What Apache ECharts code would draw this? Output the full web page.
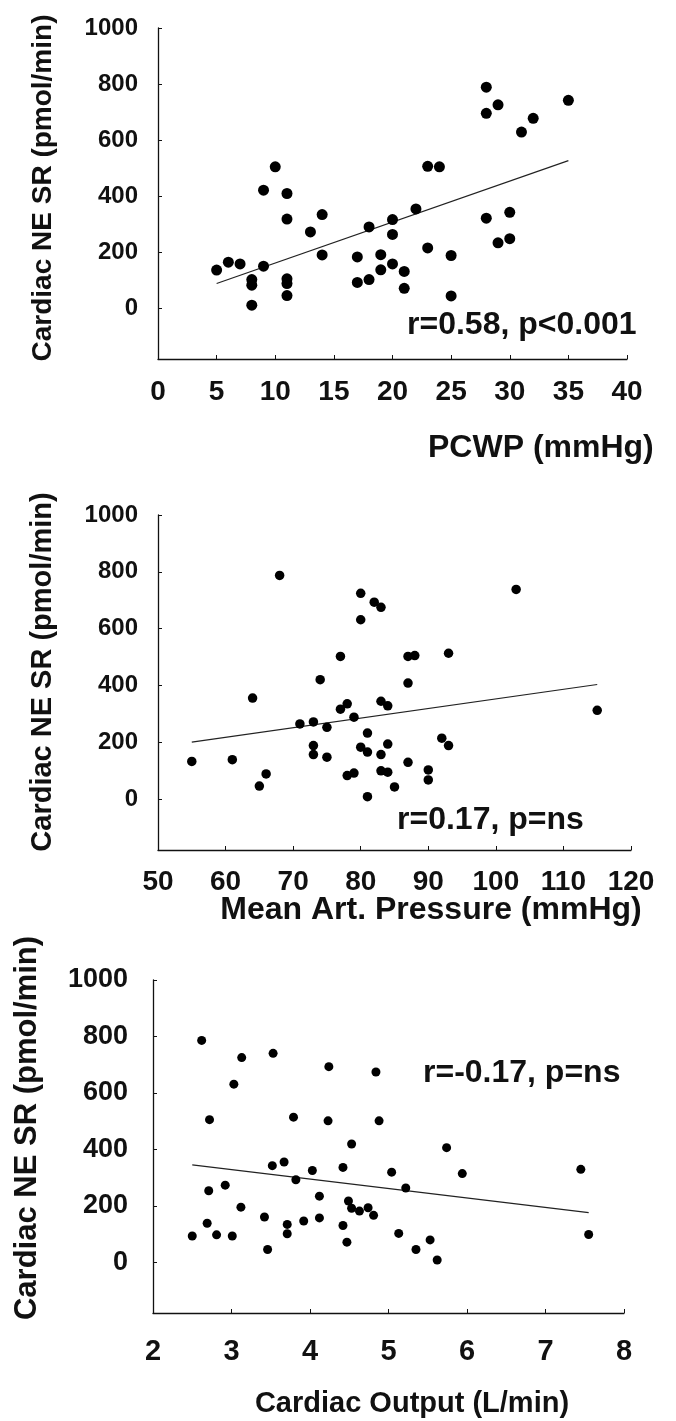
<!DOCTYPE html>
<html>
<head>
<meta charset="utf-8">
<script src="https://cdn.jsdelivr.net/npm/echarts@6/dist/echarts.min.js"></script>
<style>
  html, body { margin: 0; padding: 0; background: #fff; }
  #chart { width: 676px; height: 1421px; }
</style>
</head>
<body>
<div id="chart"></div>
<script>
// panel 1: PCWP vs cardiac NE spillover
const pcwpX = [5, 6, 7, 8, 8, 8, 9, 9, 10, 11, 11, 11, 11, 11, 13, 14, 14, 17, 17, 18, 18, 19, 19, 20, 20, 20, 21, 21, 22, 23, 23, 24, 25, 25, 28, 28, 29, 28, 30, 29, 30, 31, 32, 35];
const pcwpY = [137, 165, 159, 103, 83, 12, 151, 422, 505, 410, 319, 106, 89, 46, 273, 335, 191, 184, 93, 103, 291, 192, 138, 317, 264, 159, 132, 72, 355, 507, 216, 505, 189, 45, 789, 696, 726, 322, 343, 234, 249, 629, 678, 742];
const pcwpFitX = [5, 35];
const pcwpFitY = [89, 527];

// panel 2: mean arterial pressure
const mapX = [55, 61, 64, 65, 66, 68, 71, 73, 73, 73, 74, 75, 75, 77, 77, 78, 78, 79, 79, 80, 80, 80, 81, 81, 81, 82, 83, 83, 84, 84, 83, 83, 84, 85, 87, 88, 87, 87, 90, 90, 93, 115, 103, 92, 93];
const mapY = [132, 138, 355, 45, 88, 787, 264, 271, 188, 156, 420, 252, 147, 502, 316, 335, 82, 91, 288, 724, 631, 182, 232, 165, 8, 693, 675, 344, 328, 193, 156, 99, 94, 42, 502, 505, 408, 129, 102, 67, 513, 312, 738, 214, 188];
const mapFitX = [55, 115];
const mapFitY = [200, 403];

// panel 3: cardiac output
const coX = [2.5, 2.62, 2.69, 2.71, 2.72, 2.81, 2.92, 3.01, 3.03, 3.12, 3.13, 3.42, 3.46, 3.52, 3.53, 3.67, 3.71, 3.71, 3.79, 3.82, 3.92, 4.03, 4.12, 4.12, 4.24, 4.23, 4.42, 4.42, 4.47, 4.49, 4.53, 4.53, 4.63, 4.74, 4.81, 4.84, 4.88, 5.04, 5.13, 5.22, 5.35, 5.53, 5.62, 5.74, 5.94, 7.45, 7.55];
const coY = [93, 786, 138, 253, 505, 97, 273, 93, 631, 195, 725, 160, 45, 342, 740, 355, 134, 101, 514, 292, 146, 325, 234, 157, 693, 501, 336, 130, 71, 217, 419, 191, 181, 193, 166, 674, 501, 319, 102, 263, 45, 79, 8, 406, 314, 329, 98];
const coFitX = [2.5, 7.55];
const coFitY = [345, 176];

const yTicks = [0, 200, 400, 600, 800, 1000];
const yName = 'Cardiac NE SR (pmol/min)';

const FONT = "'Liberation Sans', Arial, sans-serif";

function pairs(xs, ys) {
  return xs.map((x, i) => [x, ys[i]]);
}

function makeX(idx, min, max, interval, fontSize, margin) {
  return {
    gridIndex: idx,
    type: 'value',
    min: min,
    max: max,
    interval: interval,
    axisLine: { show: true, onZero: false, lineStyle: { color: '#111', width: 1.3 } },
    axisTick: { show: true, inside: true, length: 4, lineStyle: { color: '#111', width: 1 } },
    axisLabel: {
      fontSize: fontSize, fontWeight: 'bold', fontFamily: FONT, color: '#111', margin: margin,
      formatter: (v) => String(v),
    },
    splitLine: { show: false },
  };
}

function makeY(idx, fontSize, margin) {
  return {
    gridIndex: idx,
    type: 'value',
    min: -180,
    max: 1000,
    axisLine: { show: true, onZero: false, lineStyle: { color: '#111', width: 1.3 } },
    axisTick: { show: true, inside: true, length: 4, customValues: yTicks, lineStyle: { color: '#111', width: 1 } },
    axisLabel: {
      fontSize: fontSize, fontWeight: 'bold', fontFamily: FONT, color: '#111', margin: margin,
      customValues: yTicks,
      formatter: (v) => String(v),
    },
    splitLine: { show: false },
  };
}

function scatter(idx, xs, ys, size) {
  return {
    type: 'scatter',
    xAxisIndex: idx,
    yAxisIndex: idx,
    symbol: 'circle',
    symbolSize: size,
    itemStyle: { color: '#000', opacity: 1 },
    data: pairs(xs, ys),
    z: 3,
  };
}

function fitLine(idx, xs, ys) {
  return {
    type: 'line',
    xAxisIndex: idx,
    yAxisIndex: idx,
    showSymbol: false,
    lineStyle: { color: '#222', width: 1.2 },
    data: pairs(xs, ys),
    z: 2,
  };
}

function label(text, x, y, size, align, rotate) {
  return {
    type: 'text',
    x: x,
    y: y,
    rotation: rotate ? Math.PI / 2 : 0,
    style: {
      text: text,
      fontSize: size,
      fontWeight: 'bold',
      fontFamily: FONT,
      fill: '#111',
      align: align,
      verticalAlign: 'middle',
    },
  };
}

const chart = echarts.init(document.getElementById('chart'), null, { renderer: 'canvas' });

chart.setOption({
  animation: false,
  backgroundColor: '#fff',
  grid: [
    { left: 158, top: 28, width: 469, height: 331 },
    { left: 158, top: 515, width: 473, height: 335 },
    { left: 153, top: 980, width: 471, height: 333 },
  ],
  xAxis: [
    makeX(0, 0, 40, 5, 28, 19),
    makeX(1, 50, 120, 10, 28, 18),
    makeX(2, 2, 8, 1, 29, 24),
  ],
  yAxis: [
    makeY(0, 24, 20),
    makeY(1, 24, 20),
    makeY(2, 27, 25),
  ],
  series: [
    scatter(0, pcwpX, pcwpY, 11),
    fitLine(0, pcwpFitX, pcwpFitY),
    scatter(1, mapX, mapY, 9.5),
    fitLine(1, mapFitX, mapFitY),
    scatter(2, coX, coY, 9),
    fitLine(2, coFitX, coFitY),
  ],
  graphic: [
    label(yName, 43, 188, 28, 'center', true),
    label(yName, 43, 672, 29, 'center', true),
    label(yName, 27, 1128, 31, 'center', true),
    label('r=0.58, p<0.001', 407, 325, 32, 'left'),
    label('r=0.17, p=ns', 397, 820, 32, 'left'),
    label('r=-0.17, p=ns', 423, 1073, 32, 'left'),
    label('PCWP (mmHg)', 428, 448, 32, 'left'),
    label('Mean Art. Pressure (mmHg)', 431, 910, 32, 'center'),
    label('Cardiac Output (L/min)', 412, 1404, 29, 'center'),
  ],
});

window.addEventListener('resize', () => {
  chart.resize();
});
</script>
</body>
</html>
